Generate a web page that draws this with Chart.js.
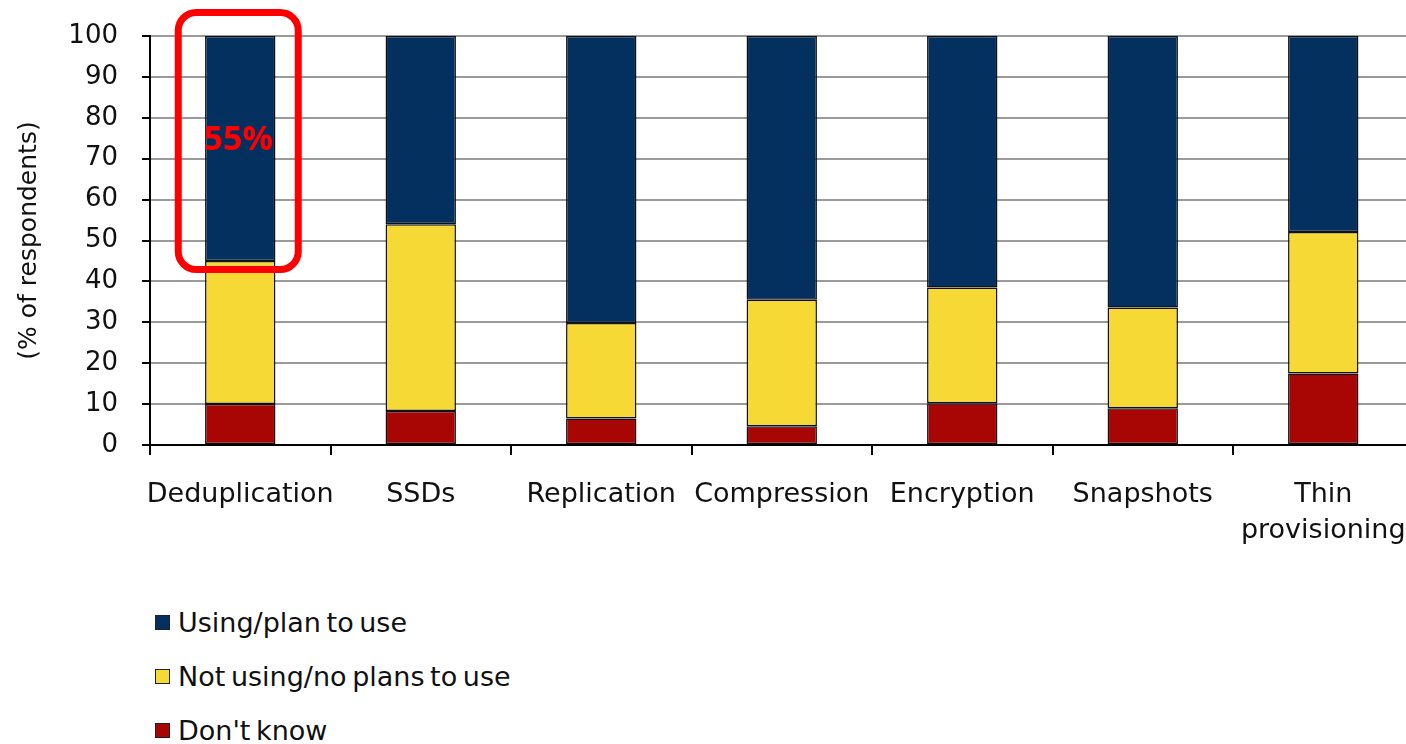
<!DOCTYPE html>
<html>
<head>
<meta charset="utf-8">
<script src="https://cdn.jsdelivr.net/npm/chart.js@4/dist/chart.umd.min.js"></script>
<style>
  html, body { margin: 0; padding: 0; background: #fff; overflow: hidden; width: 1406px; height: 744px; }
  #wrap { position: absolute; left: 0; top: 0; width: 1500px; height: 560px; }
  #legend { position: absolute; left: 155px; top: 595px; font-family: "DejaVu Sans", sans-serif; font-size: 27px; color: #111; word-spacing: -3px; }
  #legend .row { height: 54px; display: flex; align-items: center; white-space: nowrap; }
  #legend .box { width: 15px; height: 15px; box-sizing: border-box; border: 1px solid #222; margin-right: 8px; }
</style>
</head>
<body>
<div id="wrap"><canvas id="chart"></canvas></div>
<div id="legend"></div>
<script>
// Storage technology adoption survey, % of respondents
const categories = ['Deduplication', 'SSDs', 'Replication', 'Compression', 'Encryption', 'Snapshots', ['Thin', 'provisioning']];
const dontKnow   = [10, 8.3, 6.5, 4.6, 10.2, 9.0, 17.5];
const notUsing   = [35, 45.7, 23.3, 30.9, 28.3, 24.6, 34.6];
const usingPlan  = [55, 46.0, 70.2, 64.5, 61.5, 66.4, 47.9];
const yTicks     = [0, 10, 20, 30, 40, 50, 60, 70, 80, 90, 100];
const highlightIndex = 0;

const seriesNames = {
  using: 'Using/plan to use',
  notUsing: 'Not using/no plans to use',
  dontKnow: "Don't know"
};
const colors = { using: '#03305f', notUsing: '#f6d934', dontKnow: '#a80505' };

const tickFont = { family: 'DejaVu Sans', size: 26 };
const catFont  = { family: 'DejaVu Sans', size: 27, lineHeight: 1.33 };

// Rounded outline with a percentage callout around one bar
const calloutPlugin = {
  id: 'callout',
  afterDatasetsDraw(chart) {
    const x = chart.scales.x, y = chart.scales.y;
    const cx = x.getPixelForValue(highlightIndex) - 2;
    const total = dontKnow[highlightIndex] + notUsing[highlightIndex] + usingPlan[highlightIndex];
    const lower = dontKnow[highlightIndex] + notUsing[highlightIndex];
    const top = y.getPixelForValue(total) - 23.5;
    const bottom = y.getPixelForValue(lower) + 8.5;
    const left = cx - 60, right = cx + 60, r = 18;
    const ctx = chart.ctx;
    ctx.save();
    ctx.strokeStyle = '#ff0000';
    ctx.lineWidth = 7;
    ctx.beginPath();
    ctx.roundRect(left, top, right - left, bottom - top, r);
    ctx.stroke();
    const mid = (y.getPixelForValue(total) + y.getPixelForValue(lower)) / 2 - 8;
    ctx.fillStyle = '#ff0000';
    ctx.font = 'bold 34px "Open Sans", sans-serif';
    ctx.textAlign = 'center';
    ctx.textBaseline = 'middle';
    ctx.fillText(usingPlan[highlightIndex] + '%', cx, mid);
    ctx.restore();
  }
};

const segment = (label, data, color) => ({
  label, data,
  backgroundColor: color,
  borderColor: '#111',
  borderWidth: 1.5,
  borderSkipped: false,
  categoryPercentage: 1.0,
  barPercentage: 0.39
});

const chart = new Chart(document.getElementById('chart'), {
  type: 'bar',
  data: {
    labels: categories,
    datasets: [
      segment(seriesNames.dontKnow, dontKnow, colors.dontKnow),
      segment(seriesNames.notUsing, notUsing, colors.notUsing),
      segment(seriesNames.using, usingPlan, colors.using)
    ]
  },
  options: {
    responsive: true,
    maintainAspectRatio: false,
    animation: false,
    layout: { padding: { top: 36, right: 86.5, bottom: 0, left: 0 } },
    plugins: { legend: { display: false }, tooltip: { enabled: false } },
    scales: {
      x: {
        stacked: true,
        offset: true,
        grid: { display: true, drawOnChartArea: false, drawTicks: true, tickLength: 10, color: '#000', lineWidth: 2, offset: true },
        border: { display: true, color: '#000', width: 2 },
        ticks: { font: catFont, color: '#111', padding: 22, maxRotation: 0, autoSkip: false },
        afterFit(scale) { scale.height = 115; }
      },
      y: {
        stacked: true,
        min: 0, max: 100,
        afterBuildTicks(scale) { scale.ticks = yTicks.map(v => ({ value: v })); },
        grid: { color: '#9a9a9a', lineWidth: 2, tickLength: 8, tickColor: '#000' },
        border: { display: true, color: '#000', width: 2 },
        ticks: { font: tickFont, color: '#111', padding: 24 },
        title: { display: true, text: '(% of respondents)', font: { family: 'DejaVu Sans', size: 25 }, color: '#111', padding: { top: 14, bottom: 0 } },
        afterFit(scale) {
          scale.width = 150;
          // only half a label of headroom is needed above the top tick
          scale.paddingTop = 16;
          scale.paddingBottom = 16;
        }
      }
    }
  },
  plugins: [calloutPlugin]
});

// Legend listed top-down: Using, Not using, Don't know
const legendEl = document.getElementById('legend');
[...chart.data.datasets].reverse().forEach(ds => {
  const row = document.createElement('div');
  row.className = 'row';
  const box = document.createElement('span');
  box.className = 'box';
  box.style.background = ds.backgroundColor;
  const txt = document.createElement('span');
  txt.textContent = ds.label;
  row.appendChild(box);
  row.appendChild(txt);
  legendEl.appendChild(row);
});
</script>
</body>
</html>
